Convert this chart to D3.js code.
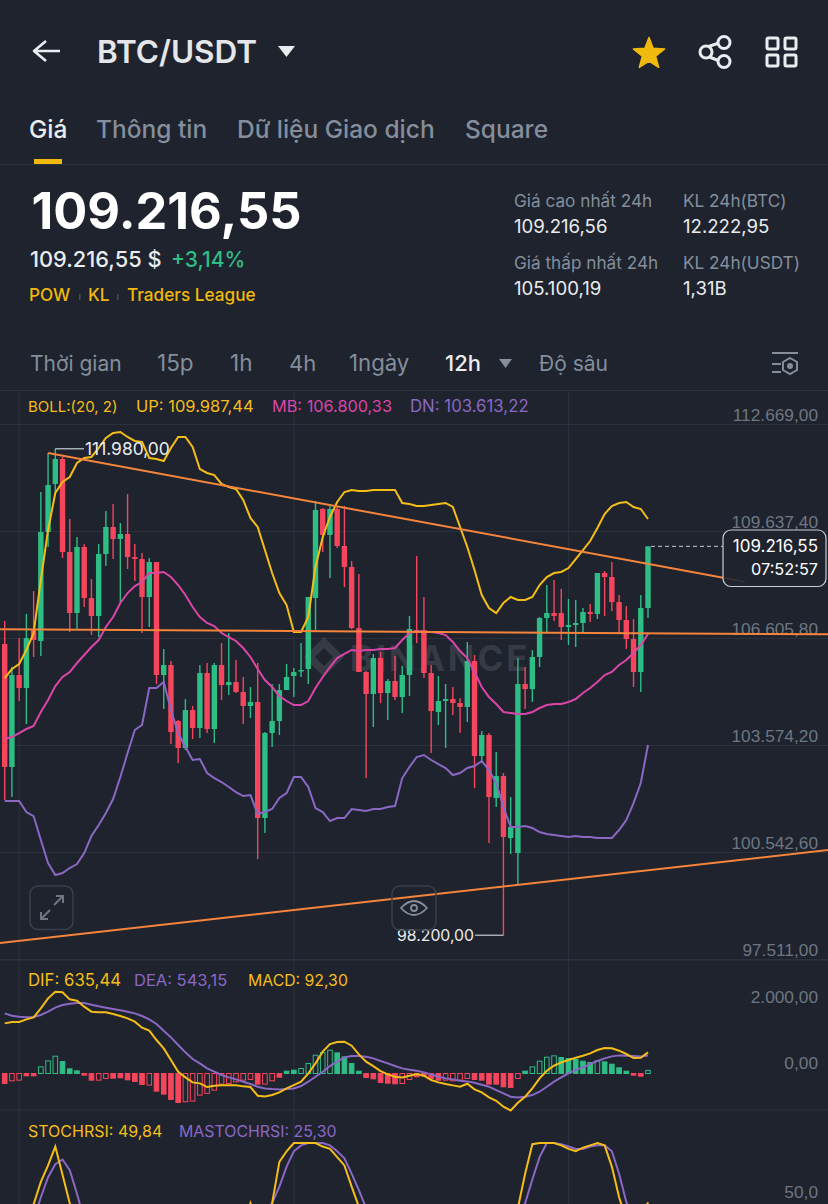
<!DOCTYPE html>
<html>
<head>
<meta charset="utf-8">
<script src="https://cdn.jsdelivr.net/npm/d3@7/dist/d3.min.js"></script>
<style>
  html, body { margin: 0; padding: 0; background: #1e232e; overflow: hidden; }
  svg { display: block; font-family: Inter, "Noto Sans", Arial, sans-serif; }
</style>
</head>
<body>
<div id="chart"></div>
<script>
const opens = [106450,102965,105571,105202,106846,106535,109623,110984,111692,109056,
  107328,109199,107753,107243,109000,109765,109425,109567,108915,108858,
  107782,108773,105571,105854,104268,103502,104579,104069,105628,104041,
  105854,105287,105372,105089,104693,104806,101519,103928,104268,105146,
  105543,105685,105741,107753,110275,109538,110275,109227,108632,106903,
  105656,105033,106053,105061,105401,104948,105571,106846,106846,105628,
  104523,104835,104891,104778,104665,105968,103276,103871,102086,102709,
  100953,100527,105316,105174,106082,107186,107328,107328,106932,106988,
  107045,107356,107300,108461,108348,107639,107130,106591,105656,107470];
const closes = [102965,105571,105202,106619,106563,109623,110955,111692,109056,107328,
  109199,107753,107243,109000,109765,109425,109567,108915,108858,107782,
  108773,105571,105854,103956,103502,104579,104069,105628,104041,105854,
  105287,105372,105089,104693,104806,101519,103928,104268,105146,105515,
  105656,105713,107782,110247,109538,110275,109227,108632,106903,105656,
  105033,106053,105061,105401,104948,105571,106875,106761,105628,104551,
  104835,104891,104778,104665,105968,103276,103871,102114,102709,100981,
  101264,105316,105174,106082,107186,107328,107243,106932,106988,107045,
  107356,107300,108461,108348,107639,107130,106591,105656,107470,109217];
const highs = [107102,105798,106619,107300,107952,110756,111862,111980,111749,109992,
  109482,109284,108291,109284,110219,110417,109878,110700,109284,109028,
  108886,108773,106308,105968,104296,104891,104693,105854,105911,105911,
  106478,106761,105996,105515,105231,105911,103956,105316,105316,105883,
  105769,106478,107782,110502,110303,110360,110332,110360,108802,108433,
  105685,106167,106223,105457,106110,105826,107243,108943,107782,105854,
  105543,105316,105231,104920,106506,106138,103985,103928,103389,102794,
  102114,106053,105798,106280,107215,108121,108263,108008,107725,107696,
  107470,107583,108461,108518,108773,107838,107526,107158,107838,109217];
const lows = [102029,102114,104835,104183,106082,106110,109199,110728,108886,106789,
  106875,107498,106704,106648,108660,108858,107611,108575,108235,106761,
  106932,105316,104608,103616,103078,103446,103758,103786,103928,103644,
  104863,105004,105061,104183,104352,100357,101094,103531,103871,105146,
  104948,105515,105316,106846,109056,108319,109170,108065,106875,105656,
  102652,104098,104778,104296,104863,104494,104976,106478,105486,103361,
  104155,103502,104437,103928,104240,102369,103135,100811,101831,98200,
  100499,99649,104608,104806,105798,106789,107102,106563,106421,106365,
  106789,107073,107158,107243,107385,106761,106308,105231,105089,107186];

const bollUp = [105486,105741,105883,106280,106761,108263,109680,110728,111040,111182,
  111578,111720,111749,112003,112287,112428,112457,112315,112202,112173,
  111720,111692,111635,112003,112315,112315,112032,111408,111295,111238,
  110984,110898,110842,110530,110020,109765,109113,108461,107894,107554,
  106789,106789,107215,108632,109482,110049,110473,110756,110813,110785,
  110785,110813,110813,110813,110813,110445,110417,110360,110360,110388,
  110417,110445,110332,109765,109199,108546,107838,107470,107328,107611,
  107782,107696,107696,107782,108121,108348,108461,108490,108603,108858,
  109113,109368,109737,110134,110360,110445,110473,110332,110275,109992];
const bollMid = [103758,103815,103928,104041,104126,104523,104863,105259,105515,105656,
  105911,106138,106365,106563,106932,107215,107611,107894,108093,108206,
  108461,108461,108490,108348,108121,107838,107498,107215,107045,106960,
  106761,106648,106535,106336,106082,105741,105429,105231,104976,104835,
  104721,104721,104835,105202,105515,105798,106053,106167,106280,106251,
  106280,106280,106308,106308,106336,106563,106761,106818,106789,106789,
  106761,106704,106506,106251,106053,105656,105231,104948,104750,104523,
  104494,104466,104466,104523,104636,104721,104750,104750,104806,104891,
  105061,105202,105372,105571,105656,105854,105996,106195,106421,106733];
const bollDn = [102001,102001,102001,101689,101575,100896,100244,99904,99960,100102,
  100216,100527,101009,101321,101661,102058,102681,103361,104013,104155,
  105202,105202,105372,104579,103928,103531,103163,103191,102794,102652,
  102539,102398,102256,102143,102171,101632,101689,101774,102086,102227,
  102681,102681,102398,101802,101689,101434,101519,101519,101774,101746,
  101717,101774,101774,101831,101859,102652,102965,103248,103305,103163,
  103050,102936,102738,102794,102936,102993,103135,102879,102511,101831,
  101264,101264,101292,101236,101122,101066,101037,101009,100981,101009,
  100981,100981,100953,100953,100953,101179,101462,101944,102511,103588];

const difLine = [1508,1548,1548,1629,1689,1960,2261,2461,2441,2230,
  2190,2010,1859,1839,1839,1789,1729,1659,1558,1378,
  1288,1007,756,405,54,-117,-267,-297,-407,-367,
  -357,-357,-357,-387,-407,-668,-688,-648,-568,-448,
  -347,-247,4,305,656,886,947,957,836,576,
  355,224,74,-26,-97,-117,-66,-16,-66,-197,
  -267,-317,-357,-397,-307,-478,-568,-718,-819,-999,
  -1110,-879,-698,-448,-147,84,234,335,405,475,
  535,606,706,766,756,686,586,465,475,635];
const deaLine = [1809,1739,1709,1689,1699,1759,1859,1980,2060,2100,
  2120,2120,2070,2020,1980,1940,1900,1859,1809,1729,
  1629,1488,1288,1087,856,636,435,305,154,54,
  -46,-117,-177,-247,-317,-397,-448,-468,-478,-468,
  -448,-377,-247,-97,54,225,355,485,525,525,
  505,455,375,305,224,154,114,84,34,-26,
  -97,-147,-177,-217,-237,-277,-337,-397,-498,-598,
  -698,-718,-698,-648,-548,-397,-247,-117,4,104,
  184,285,375,455,515,545,535,525,515,543];
const macdHist = [-300,-220,-200,-70,-70,200,380,520,360,140,
  80,-50,-200,-200,-150,-140,-130,-190,-240,-330,
  -350,-530,-620,-780,-870,-850,-830,-650,-600,-500,
  -320,-300,-250,-200,-180,-320,-320,-220,-110,70,
  100,150,300,550,630,700,620,500,300,70,
  -120,-160,-270,-290,-310,-300,-180,-100,-80,-150,
  -200,-200,-220,-200,-150,-180,-200,-320,-320,-400,
  -420,-150,70,200,370,490,530,480,450,420,
  370,330,380,350,280,170,70,-50,-80,92];
const macdHollow = [1,2,5,6,7,13,14,20,25,26,27,28,29,30,31,32,33,34,36,37,
  41,42,43,44,45,55,56,61,62,63,64,71,73,74,75,76,82,89];

const stochRsi = [20,15,18,30,48,67,81,97,73,49,
  30,22,18,15,14,18,22,25,20,18,
  15,12,10,12,15,18,20,24,28,30,
  25,22,26,30,49,30,35,49,84,93,
  100,100,100,100,97,95,88,81,63,46,
  30,22,15,12,10,12,15,18,20,22,
  20,15,12,10,8,10,12,15,18,25,
  30,45,74,99,100,100,100,98,95,93,
  96,98,100,98,80,54,35,25,30,49.84];
const maStochRsi = [25,20,18,20,35,54,71,82,86,77,
  57,35,25,20,16,15,18,22,22,20,
  18,15,12,12,13,15,18,20,24,27,
  28,26,25,26,30,35,38,49,63,80,
  93,98,100,100,100,98,93,87,74,60,
  45,30,22,15,12,11,12,15,18,20,
  21,18,15,12,10,9,10,12,15,19,
  24,35,49,69,88,100,100,99,97,95,
  95,97,98,98,93,74,50,35,28,25.3];

const priceTicks = [112669, 109637.4, 106605.8, 103574.2, 100542.6, 97511];
const priceTickLabels = ["112.669,00", "109.637,40", "106.605,80", "103.574,20", "100.542,60", "97.511,00"];
const macdTicks = [2000, 0];
const macdTickLabels = ["2.000,00", "0,00"];
const stochTicks = [50];
const stochTickLabels = ["50,0"];
const timeGridIndex = [2, 40, 78];

// trend lines: [candle index, price] at each end
const trendDown = [[6, 111862], [102.4, 108215]];
const trendFlat = [[-0.65, 106866], [113.9, 106724]];
const trendUp = [[-0.65, 97977], [113.9, 100612]];

const bg = "#1e232e";
const gridColor = "#2c323d";
const green = "#2ebd85";
const red = "#f6465d";
const yellow = "#f0b90b";
const bollYellow = "#f5bd18";
const magenta = "#dc45a8";
const purple = "#8a68c4";
const orange = "#f5843c";
const axisText = "#6f7682";
const grey = "#848e9c";

const svg = d3.select("#chart").append("svg").attr("width", 828).attr("height", 1204);

const label = (txt, x, y, size, fill, weight, anchor) =>
  svg.append("text").attr("x", x).attr("y", y).attr("font-size", size).attr("fill", fill)
    .attr("font-weight", weight || 400).attr("text-anchor", anchor || "start").text(txt);

// header
svg.append("path").attr("d", "M60,51 H35 M46,41 L34,51 L46,61").attr("fill", "none")
  .attr("stroke", "#eaecef").attr("stroke-width", 2.6).attr("stroke-linejoin", "round");
label("BTC/USDT", 97, 63, 31.5, "#e4e6ea", 600);
svg.append("path").attr("d", "M278,46 H295 L286.5,57 Z").attr("fill", "#eaecef");

const star = d3.range(10).map(i => {
  const r = i % 2 ? 7 : 16.5, a = -Math.PI / 2 + i * Math.PI / 5;
  return [649 + r * Math.cos(a), 54 + r * Math.sin(a)];
});
svg.append("path").attr("d", d3.line()(star) + "Z").attr("fill", yellow).attr("stroke", yellow)
  .attr("stroke-width", 1.5).attr("stroke-linejoin", "round");

const share = svg.append("g").attr("fill", "none").attr("stroke", "#eaecef").attr("stroke-width", 3);
share.append("path").attr("d", "M707,47 L722,42 M707,56 L722,62");
share.append("circle").attr("cx", 706).attr("cy", 52).attr("r", 6).attr("fill", bg);
share.append("circle").attr("cx", 724).attr("cy", 42.5).attr("r", 6).attr("fill", bg);
share.append("circle").attr("cx", 724).attr("cy", 61.5).attr("r", 6).attr("fill", bg);
[[767, 38], [785, 38], [767, 55], [785, 55]].forEach(p => {
  svg.append("rect").attr("x", p[0]).attr("y", p[1]).attr("width", 11).attr("height", 11).attr("rx", 1.5)
    .attr("fill", "none").attr("stroke", "#eaecef").attr("stroke-width", 3);
});

// tabs
label("Giá", 29, 138, 24.5, "#eaecef", 500);
label("Thông tin", 96, 138, 24.5, grey, 500);
label("Dữ liệu Giao dịch", 237, 138, 24.5, grey, 500);
label("Square", 465, 138, 24.5, grey, 500);
svg.append("rect").attr("x", 34).attr("y", 159).attr("width", 28).attr("height", 5).attr("fill", yellow);
svg.append("line").attr("x1", 0).attr("x2", 828).attr("y1", 164.5).attr("y2", 164.5).attr("stroke", gridColor);

// price block
label("109.216,55", 31.5, 229, 50.5, "#ffffff", 700);
label("109.216,55 $", 30, 267, 21.8, "#eaecef", 500);
label("+3,14%", 171, 267, 21, green, 500);
label("POW", 29, 301, 17.2, yellow, 500);
label("KL", 88, 301, 17.2, yellow, 500);
label("Traders League", 127, 301, 17.2, yellow, 500);
[79, 117].forEach(x => svg.append("rect").attr("x", x).attr("y", 294).attr("width", 1.5).attr("height", 6).attr("fill", "#474d57"));

label("Giá cao nhất 24h", 514, 207, 17.2, grey);
label("109.216,56", 514, 233, 18.6, "#eaecef");
label("Giá thấp nhất 24h", 514, 269, 17.2, grey);
label("105.100,19", 514, 295, 18.6, "#eaecef");
label("KL 24h(BTC)", 683, 207, 17.2, grey);
label("12.222,95", 683, 233, 18.6, "#eaecef");
label("KL 24h(USDT)", 683, 269, 17.2, grey);
label("1,31B", 683, 295, 18.6, "#eaecef");

// interval row
[["Thời gian", 30, 21], ["15p", 157, 22.5], ["1h", 230, 22.5], ["4h", 289, 22], ["1ngày", 349, 22.2], ["Độ sâu", 539, 21]]
  .forEach(d => label(d[0], d[1], 371, d[2], grey));
label("12h", 445, 371, 22, "#eaecef", 500);
svg.append("path").attr("d", "M499,359 H512 L505.5,368 Z").attr("fill", grey);
const cfg = svg.append("g").attr("fill", "none").attr("stroke", grey).attr("stroke-width", 2);
cfg.append("path").attr("d", "M772,353 H798 M772,364 H781 M772,372 H781");
cfg.append("path").attr("d", "M790,358 L797,362 V370 L790,374 L783,370 V362 Z");
cfg.append("circle").attr("cx", 790).attr("cy", 366).attr("r", 2).attr("fill", grey);

// scales
const x = d3.scaleLinear().domain([0, 89]).range([4.7, 648]);
const y = d3.scaleLinear().domain([112669, 97511]).range([424.5, 959.5]);
const yMacd = d3.scaleLinear().domain([2000, 0]).range([1007, 1073.5]);
const yStoch = d3.scaleLinear().domain([100, 50]).range([1143, 1202]);

// grid
const grid = svg.append("g").attr("stroke", gridColor).attr("stroke-width", 1);
[390.5, 960, 1110].forEach(v => grid.append("line").attr("x1", 0).attr("x2", 828).attr("y1", v).attr("y2", v));
priceTicks.forEach(v => grid.append("line").attr("x1", 0).attr("x2", 828).attr("y1", y(v)).attr("y2", y(v)));
timeGridIndex.forEach(v => grid.append("line").attr("x1", x(v)).attr("x2", x(v)).attr("y1", 390).attr("y2", 1204));

// axes
function drawAxis(scale, ticks, labels, lift) {
  const g = svg.append("g").attr("transform", "translate(818,0)")
    .call(d3.axisLeft(scale).tickValues(ticks).tickSize(0).tickPadding(0).tickFormat((d, i) => labels[i]));
  g.select(".domain").remove();
  g.selectAll("text").attr("fill", axisText).attr("font-size", 17.3).attr("font-family", "inherit")
    .attr("dy", 0).attr("y", lift).attr("text-anchor", "end");
}
drawAxis(y, priceTicks, priceTickLabels, -4);
drawAxis(yMacd, macdTicks, macdTickLabels, -5);
drawAxis(yStoch, stochTicks, stochTickLabels, -5);

// watermark
const wm = svg.append("g").attr("opacity", 0.1);
wm.append("path").attr("d", "M324,637 L344,657 L324,677 L304,657 Z M324,648 L333,657 L324,666 L315,657 Z")
  .attr("fill", "#ffffff").attr("fill-rule", "evenodd");
wm.append("text").attr("x", 350).attr("y", 671).attr("font-size", 35).attr("font-weight", 700)
  .attr("letter-spacing", 3).attr("fill", "#ffffff").text("BINANCE");

// candles
const candles = svg.append("g").selectAll("g").data(opens.map((o, i) => i)).join("g")
  .attr("fill", i => closes[i] >= opens[i] ? green : red);
candles.append("rect").attr("x", i => x(i) - 0.7).attr("width", 1.4)
  .attr("y", i => y(highs[i])).attr("height", i => y(lows[i]) - y(highs[i]));
candles.append("rect").attr("x", i => x(i) - 2.7).attr("width", 5.4)
  .attr("y", i => y(Math.max(opens[i], closes[i])))
  .attr("height", i => Math.max(1.5, Math.abs(y(opens[i]) - y(closes[i]))));

// bollinger
const priceLine = d3.line().x((d, i) => x(i)).y(d => y(d));
[[bollUp, bollYellow], [bollMid, magenta], [bollDn, purple]].forEach(s => {
  svg.append("path").attr("d", priceLine(s[0])).attr("fill", "none").attr("stroke", s[1]).attr("stroke-width", 2);
});

// trend lines
const trendLine = d3.line().x(d => x(d[0])).y(d => y(d[1]));
[trendDown, trendFlat, trendUp].forEach(t => {
  svg.append("path").attr("d", trendLine(t)).attr("fill", "none").attr("stroke", orange).attr("stroke-width", 2);
});

// high / low markers
const markColor = "#eaecef";
svg.append("line").attr("x1", x(7)).attr("x2", 84).attr("y1", y(111980)).attr("y2", y(111980)).attr("stroke", markColor).attr("stroke-width", 1);
label("111.980,00", 85, y(111980) + 6, 17.4, markColor);
svg.append("line").attr("x1", 475).attr("x2", x(69)).attr("y1", y(98200)).attr("y2", y(98200)).attr("stroke", markColor).attr("stroke-width", 1);
label("98.200,00", 474, y(98200) + 6, 15.8, markColor, 400, "end");

// last price box
svg.append("line").attr("x1", x(89) + 3).attr("x2", 723).attr("y1", y(109216.55)).attr("y2", y(109216.55))
  .attr("stroke", "#c4c8ce").attr("stroke-width", 1).attr("stroke-dasharray", "4 3");
svg.append("rect").attr("x", 723).attr("y", 530).attr("width", 103).attr("height", 56.5).attr("rx", 8)
  .attr("fill", bg).attr("fill-opacity", 0.9).attr("stroke", "#c9ccd1").attr("stroke-width", 1.2);
label("109.216,55", 818, 552, 17, "#ffffff", 400, "end");
label("07:52:57", 818, 575, 16.3, "#ffffff", 400, "end");

// chart buttons
svg.append("rect").attr("x", 30).attr("y", 886).attr("width", 43).attr("height", 43.5).attr("rx", 8)
  .attr("fill", "none").attr("stroke", "#3a404b").attr("stroke-width", 1.5);
svg.append("path").attr("d", "M41,919 L50,910 M41,912 V919 H48 M63,896 L54,905 M56,896 H63 V903").attr("fill", "none")
  .attr("stroke", "#6f7682").attr("stroke-width", 2);
svg.append("rect").attr("x", 392).attr("y", 886).attr("width", 44).attr("height", 44).attr("rx", 8)
  .attr("fill", "none").attr("stroke", "#3a404b").attr("stroke-width", 1.5);
svg.append("path").attr("d", "M401,908 Q414,894 427,908 Q414,922 401,908 Z").attr("fill", "none")
  .attr("stroke", "#848e9c").attr("stroke-width", 1.8);
svg.append("circle").attr("cx", 414).attr("cy", 908).attr("r", 3).attr("fill", "none").attr("stroke", "#848e9c").attr("stroke-width", 1.8);

// legends
label("BOLL:(20, 2)", 28, 412, 15, bollYellow);
label("UP: 109.987,44", 136, 412, 16.5, bollYellow);
label("MB: 106.800,33", 272, 412, 16.3, magenta);
label("DN: 103.613,22", 410, 412, 16.8, purple);

// macd pane
svg.append("g").selectAll("rect").data(macdHist).join("rect")
  .attr("x", (d, i) => x(i) - 2.3).attr("width", 4.6)
  .attr("y", d => Math.min(yMacd(d), yMacd(0)))
  .attr("height", d => Math.max(1, Math.abs(yMacd(d) - yMacd(0))))
  .attr("stroke", d => d >= 0 ? green : red).attr("stroke-width", 1)
  .attr("fill", (d, i) => macdHollow.includes(i) ? bg : (d >= 0 ? green : red));
const macdLine = d3.line().x((d, i) => x(i)).y(d => yMacd(d));
svg.append("path").attr("d", macdLine(deaLine)).attr("fill", "none").attr("stroke", purple).attr("stroke-width", 2);
svg.append("path").attr("d", macdLine(difLine)).attr("fill", "none").attr("stroke", bollYellow).attr("stroke-width", 2);
label("DIF: 635,44", 28, 986, 16.8, bollYellow);
label("DEA: 543,15", 134, 986, 16.5, purple);
label("MACD: 92,30", 248, 986, 15.8, bollYellow);

// stoch rsi pane
const stochLine = d3.line().x((d, i) => x(i)).y(d => yStoch(d));
svg.append("path").attr("d", stochLine(maStochRsi)).attr("fill", "none").attr("stroke", purple).attr("stroke-width", 2);
svg.append("path").attr("d", stochLine(stochRsi)).attr("fill", "none").attr("stroke", bollYellow).attr("stroke-width", 2);
label("STOCHRSI: 49,84", 28, 1137, 16, bollYellow);
label("MASTOCHRSI: 25,30", 179, 1137, 15.9, purple);
</script>
</body>
</html>
